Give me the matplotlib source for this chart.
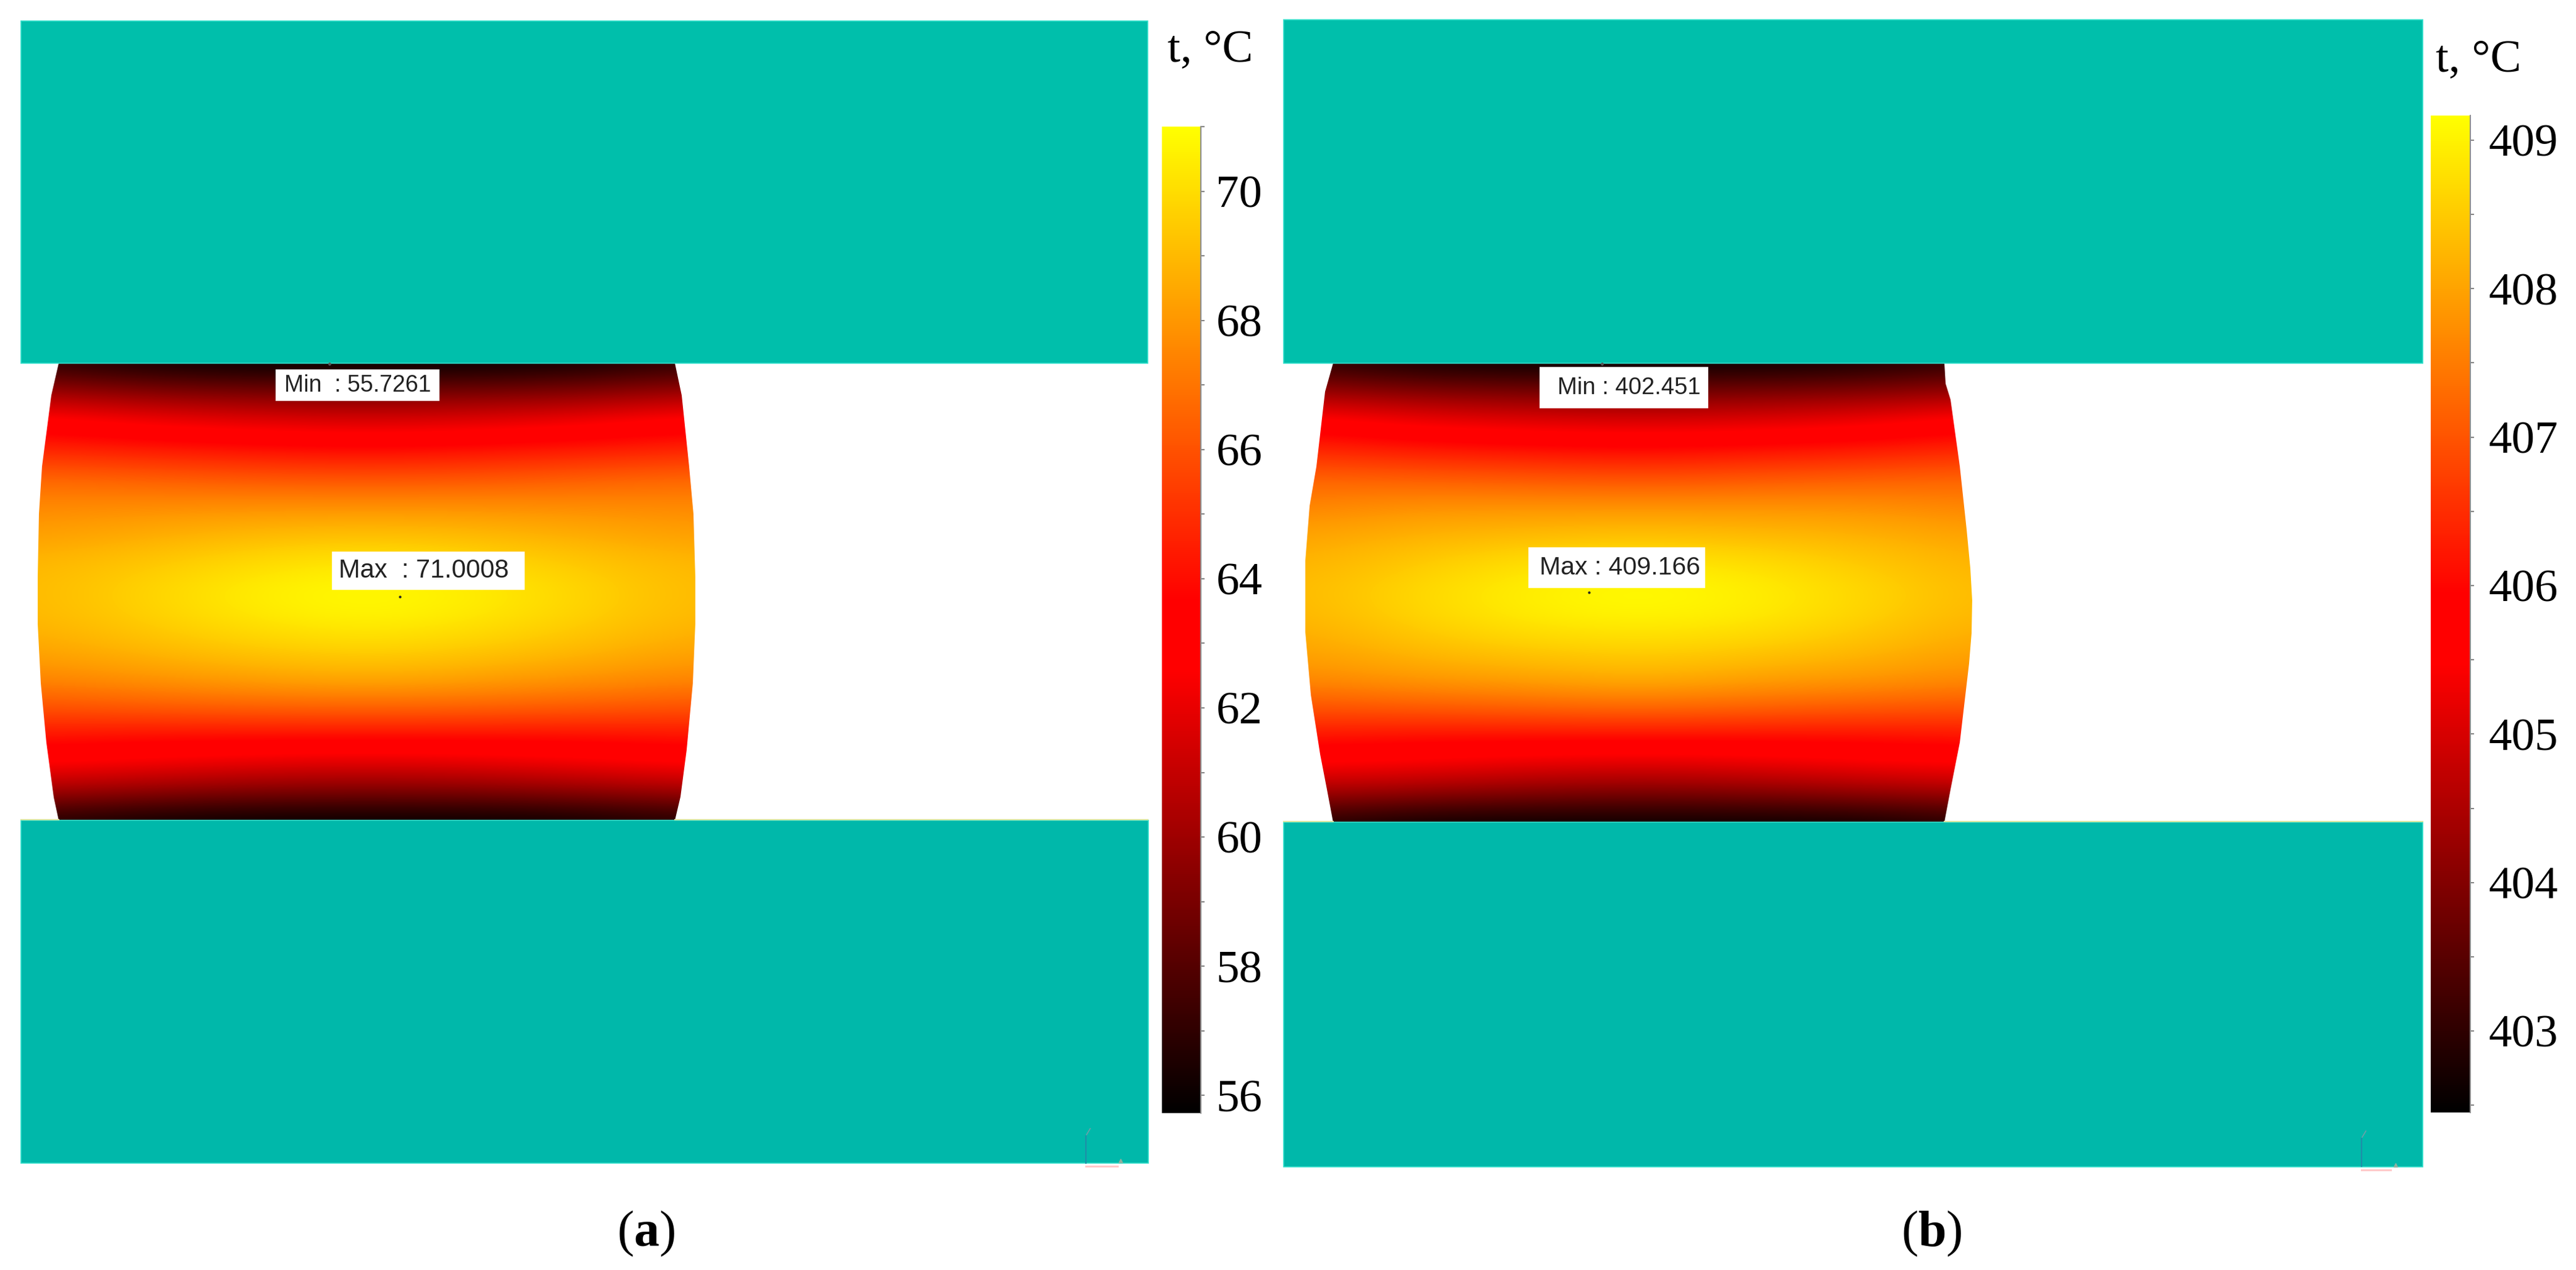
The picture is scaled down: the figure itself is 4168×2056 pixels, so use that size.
import matplotlib
matplotlib.use('Agg')
import matplotlib.pyplot as plt
import numpy as np
from matplotlib.cm import ScalarMappable
from matplotlib.colors import LinearSegmentedColormap, Normalize
from matplotlib.patches import Polygon, Rectangle
from matplotlib.ticker import MultipleLocator

W, H = 4168, 2056

plt.rcParams['font.family'] = ['Liberation Serif', 'DejaVu Serif']
plt.rcParams['mathtext.fontset'] = 'custom'
plt.rcParams['mathtext.rm'] = 'Liberation Serif'
plt.rcParams['mathtext.bf'] = 'Liberation Serif:bold'

# temperature, rows go plate to plate,
# columns go from the axis of the sample (first) to its free edge (last)
temp_a = [
    [55.7, 55.7, 56.0, 56.9],
    [58.8, 58.9, 59.2, 60.0],
    [61.5, 61.8, 62.3, 63.1],
    [63.8, 64.0, 64.3, 64.6],
    [65.9, 66.0, 66.3, 66.6],
    [67.8, 67.8, 67.7, 67.6],
    [69.2, 69.0, 68.6, 68.2],
    [70.4, 70.0, 69.4, 68.9],
    [71.0, 70.6, 69.8, 69.0],
    [70.7, 70.3, 69.6, 68.9],
    [69.8, 69.5, 69.0, 68.4],
    [68.7, 68.4, 68.0, 67.6],
    [66.7, 66.6, 66.4, 66.1],
    [64.1, 64.1, 64.1, 64.3],
    [61.8, 62.0, 62.4, 62.8],
    [59.1, 59.2, 59.6, 60.2],
    [55.7, 55.7, 55.9, 56.6],
]
temp_b = [
    [402.5, 402.5, 402.6, 403.0],
    [403.8, 403.9, 404.0, 404.3],
    [405.0, 405.1, 405.3, 405.7],
    [406.0, 406.1, 406.2, 406.4],
    [406.9, 407.0, 407.1, 407.2],
    [407.8, 407.8, 407.8, 407.6],
    [408.4, 408.3, 408.2, 408.0],
    [408.9, 408.8, 408.5, 408.2],
    [409.2, 409.0, 408.7, 408.3],
    [409.0, 408.9, 408.6, 408.2],
    [408.6, 408.5, 408.3, 408.0],
    [408.2, 408.0, 407.9, 407.7],
    [407.3, 407.2, 407.1, 407.0],
    [406.1, 406.1, 406.1, 406.2],
    [405.1, 405.2, 405.4, 405.5],
    [403.9, 404.0, 404.2, 404.4],
    [402.5, 402.5, 402.5, 402.9],
]

# outline of the sample
left_a = [(95, 588), (83, 640), (68, 755), (63, 832), (61, 934), (61, 1010), (66, 1106), (75, 1202), (87, 1291), (95, 1328)]
right_a = [(1092, 588), (1103, 640), (1115, 755), (1122, 832), (1125, 934), (1125, 1010), (1121, 1106), (1111, 1214), (1101, 1290), (1092, 1328)]
left_b = [(2157, 588), (2144, 634), (2130, 755), (2119, 819), (2112, 908), (2112, 1023), (2121, 1125), (2136, 1221), (2147, 1278), (2157, 1331)]
right_b = [(3146, 588), (3148, 621), (3156, 647), (3171, 755), (3182, 857), (3188, 920), (3191, 972), (3190, 1025), (3186, 1074), (3171, 1202), (3156, 1278), (3146, 1331)]

ticks_a = [56, 58, 60, 62, 64, 66, 68, 70]
ticks_b = [403, 404, 405, 406, 407, 408, 409]
range_a = (55.7261, 71.0008)
range_b = (402.451, 409.166)

TEAL_TOP = '#00bfab'
TEAL_BOTTOM = '#00b8aa'
EDGE = '#30dfcb'

heat = LinearSegmentedColormap.from_list('heat', [
    (0.0, '#000000'), (0.45, '#ff0000'), (0.52, '#ff0000'), (1.0, '#ffff00')], N=512)


def draw_plate(ax, x0, x1, y0, y1, color):
    ax.add_patch(Rectangle((x0, y0), x1 - x0, y1 - y0, facecolor=color, edgecolor=EDGE, linewidth=1.2, zorder=3))


def draw_sample(ax, table, left, right, vrange):
    half = np.array(table)
    field = np.hstack([half[:, :0:-1], half])
    x0, x1 = min(p[0] for p in left), max(p[0] for p in right)
    y0, y1 = left[0][1], left[-1][1]
    dx = (x1 - x0) / (field.shape[1] - 1) / 2
    dy = (y1 - y0) / (field.shape[0] - 1) / 2
    im = ax.imshow(field, cmap=heat, vmin=vrange[0], vmax=vrange[1], aspect='auto',
                   interpolation='bicubic', interpolation_stage='data',
                   extent=(x0 - dx, x1 + dx, y1 + dy, y0 - dy), zorder=1)
    outline = Polygon(list(left) + list(right)[::-1], closed=True, transform=ax.transData)
    im.set_clip_path(outline)


def draw_label(ax, box, x, text, size):
    ax.add_patch(Rectangle((box[0], box[1]), box[2] - box[0], box[3] - box[1],
                           facecolor='white', edgecolor='none', zorder=4))
    ax.text(x, (box[1] + box[3]) / 2, text, family='Liberation Sans',
            fontsize=size, color='#222222', ha='left', va='center', zorder=5)


def draw_colorbar(fig, box, vrange, ticks, minor_step, pad):
    cax = fig.add_axes([box[0] / W, 1 - box[3] / H, (box[2] - box[0]) / W, (box[3] - box[1]) / H])
    sm = ScalarMappable(norm=Normalize(*vrange), cmap=heat)
    cbar = fig.colorbar(sm, cax=cax, ticks=ticks)
    cbar.outline.set_visible(False)
    cax.spines['right'].set_visible(True)
    cax.spines['right'].set_color('#8f8f8f')
    cax.spines['right'].set_linewidth(1.5)
    cax.yaxis.set_minor_locator(MultipleLocator(minor_step))
    cax.tick_params(which='both', axis='y', length=4.5, width=1.3, color='#777777', pad=pad, labelsize=54)
    return cbar


def draw_triad(ax, x_blue, y_top, y_base, y_red, x_red, tip):
    ax.plot([x_blue, x_blue], [y_top, y_base], color='#1d8fa8', lw=1.6, zorder=4)
    ax.plot([x_blue + 1, x_blue + 7], [y_top - 2, y_top - 12], color='#6fa0a8', lw=1.2, zorder=4)
    ax.plot([x_blue, x_red], [y_red, y_red], color='#ffc8c8', lw=2.2, zorder=4)
    ax.plot(tip[0], tip[1], marker='^', ms=5, color='#8fb0a0', zorder=4)


fig = plt.figure(figsize=(W / 100, H / 100), dpi=100, facecolor='white')
ax = fig.add_axes([0, 0, 1, 1])
ax.set_xlim(0, W)
ax.set_ylim(H, 0)
ax.axis('off')

# panel a
draw_sample(ax, temp_a, left_a, right_a, range_a)
draw_plate(ax, 34, 1857, 34, 588, TEAL_TOP)
draw_plate(ax, 34, 1858, 1328, 1883, TEAL_BOTTOM)
ax.plot([34, 95], [1327, 1327], color='#d9e6a0', lw=1.5, zorder=4)
ax.plot([1092, 1857], [1327, 1327], color='#d9e6a0', lw=1.5, zorder=4)
draw_label(ax, (446, 598, 711, 649), 460, 'Min  : 55.7261', 27)
draw_label(ax, (537, 893, 849, 955), 548, 'Max  : 71.0008', 30)
ax.plot([647], [966], marker='o', ms=2, color='#222222', zorder=4)
ax.plot([533], [589], marker='o', ms=2.5, color='#555555', zorder=4)
draw_triad(ax, 1757, 1839, 1883, 1888, 1808, (1813, 1879))
draw_colorbar(fig, (1880, 205, 1943, 1802), range_a, ticks_a, 1, 13)
ax.text(1889, 100, 't, °C', fontsize=54, ha='left', va='baseline')
ax.text(998, 2017, '(' + r'$\mathbf{a}$' + ')', fontsize=59, ha='left', va='baseline')

# panel b
draw_sample(ax, temp_b, left_b, right_b, range_b)
draw_plate(ax, 2077, 3920, 32, 588, TEAL_TOP)
draw_plate(ax, 2077, 3920, 1331, 1889, TEAL_BOTTOM)
ax.plot([2077, 2157], [1330, 1330], color='#d9e6a0', lw=1.5, zorder=4)
ax.plot([3146, 3920], [1330, 1330], color='#d9e6a0', lw=1.5, zorder=4)
draw_label(ax, (2491, 594, 2764, 661), 2520, 'Min : 402.451', 27.5)
draw_label(ax, (2473, 886, 2759, 952), 2491, 'Max : 409.166', 29.5)
ax.plot([2571], [959], marker='o', ms=2, color='#222222', zorder=4)
ax.plot([2592], [589], marker='o', ms=2.5, color='#555555', zorder=4)
draw_triad(ax, 3821, 1843, 1888, 1894, 3868, (3876, 1886))
draw_colorbar(fig, (3933, 187, 3997, 1801), range_b, ticks_b, 0.5, 17)
ax.text(3941, 116, 't, °C', fontsize=54, ha='left', va='baseline')
ax.text(3076, 2017, '(' + r'$\mathbf{b}$' + ')', fontsize=59, ha='left', va='baseline')

fig.savefig('out.png', dpi=100)
